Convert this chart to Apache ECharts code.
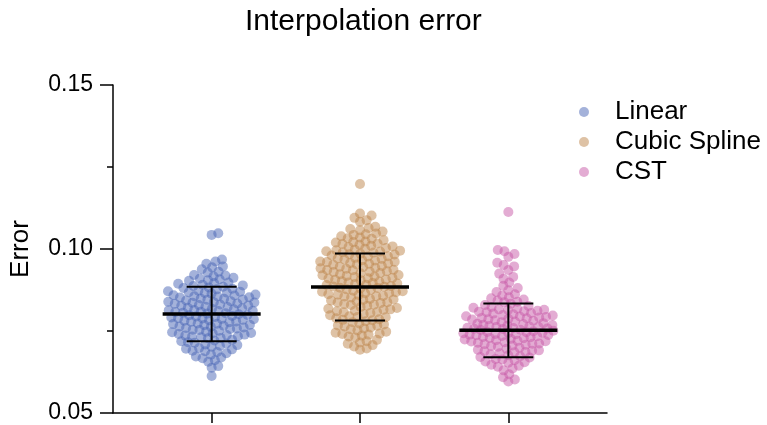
<!DOCTYPE html>
<html>
<head>
<meta charset="utf-8">
<script src="https://cdn.jsdelivr.net/npm/echarts@6/dist/echarts.min.js"></script>
<style>
  html, body { margin: 0; padding: 0; background: #fff; }
  #chart { width: 767px; height: 425px; }
</style>
</head>
<body>
<div id="chart"></div>
<script>
// groups and colours
var groups = ['Linear', 'Cubic Spline', 'CST'];
var colors = ['#4a66b5', '#bd864c', '#c85aa8'];

var linearErr = [
  0.1043, 0.1048, 0.0962, 0.0968, 0.0955, 0.0944, 0.0938, 0.0931, 0.0947, 0.0928,
  0.0921, 0.0917, 0.0912, 0.0908, 0.0903, 0.0919, 0.0910, 0.0905,
  0.0898, 0.0894, 0.0891, 0.0887, 0.0883, 0.0879, 0.0896, 0.0885, 0.0877, 0.0889, 0.0881,
  0.0873, 0.0870, 0.0867, 0.0864, 0.0861, 0.0858, 0.0855, 0.0852, 0.0871, 0.0866, 0.0859, 0.0853, 0.0868, 0.0856,
  0.0848, 0.0846, 0.0843, 0.0841, 0.0838, 0.0836, 0.0833, 0.0831, 0.0829, 0.0827, 0.0845, 0.0839, 0.0834, 0.0828, 0.0849, 0.0837,
  0.0823, 0.0821, 0.0818, 0.0816, 0.0813, 0.0811, 0.0808, 0.0806, 0.0803, 0.0801, 0.0819, 0.0814, 0.0809, 0.0804, 0.0824, 0.0812,
  0.0798, 0.0796, 0.0793, 0.0791, 0.0788, 0.0786, 0.0783, 0.0781, 0.0779, 0.0777, 0.0794, 0.0789, 0.0784, 0.0778, 0.0799, 0.0787,
  0.0773, 0.0771, 0.0768, 0.0766, 0.0763, 0.0761, 0.0758, 0.0756, 0.0753, 0.0751, 0.0769, 0.0764, 0.0759, 0.0754, 0.0772,
  0.0748, 0.0746, 0.0743, 0.0741, 0.0738, 0.0736, 0.0733, 0.0731, 0.0728, 0.0744, 0.0739, 0.0734, 0.0729,
  0.0723, 0.0719, 0.0716, 0.0712, 0.0709, 0.0705, 0.0702, 0.0721, 0.0714, 0.0707,
  0.0698, 0.0694, 0.0690, 0.0686, 0.0682, 0.0678, 0.0696, 0.0688,
  0.0672, 0.0667, 0.0661, 0.0656, 0.0669, 0.0643, 0.0638, 0.0613
];
var cubicErr = [
  0.1198, 0.1108, 0.1102, 0.1095, 0.1088, 0.1083,
  0.1064, 0.1061, 0.1057, 0.1053, 0.1068,
  0.1047, 0.1043, 0.1039, 0.1035, 0.1031, 0.1027, 0.1045, 0.1033,
  0.1023, 0.1020, 0.1017, 0.1013, 0.1010, 0.1006, 0.1003, 0.1021, 0.1015, 0.1008, 0.1001,
  0.0998, 0.0995, 0.0992, 0.0989, 0.0986, 0.0983, 0.0980, 0.0977, 0.0996, 0.0990, 0.0984, 0.0978, 0.0993,
  0.0973, 0.0970, 0.0968, 0.0965, 0.0962, 0.0960, 0.0957, 0.0955, 0.0952, 0.0971, 0.0966, 0.0961, 0.0956, 0.0953,
  0.0948, 0.0945, 0.0943, 0.0940, 0.0937, 0.0935, 0.0932, 0.0930, 0.0927, 0.0946, 0.0941, 0.0936, 0.0931, 0.0926,
  0.0923, 0.0920, 0.0918, 0.0915, 0.0912, 0.0910, 0.0907, 0.0905, 0.0902, 0.0921, 0.0916, 0.0911, 0.0906, 0.0901,
  0.0898, 0.0895, 0.0893, 0.0890, 0.0887, 0.0885, 0.0882, 0.0880, 0.0877, 0.0896, 0.0891, 0.0886, 0.0881, 0.0876,
  0.0873, 0.0870, 0.0868, 0.0865, 0.0862, 0.0860, 0.0857, 0.0855, 0.0852, 0.0871, 0.0866, 0.0861, 0.0856,
  0.0848, 0.0845, 0.0843, 0.0840, 0.0837, 0.0835, 0.0832, 0.0830, 0.0827, 0.0846, 0.0838, 0.0829,
  0.0823, 0.0820, 0.0818, 0.0815, 0.0812, 0.0810, 0.0807, 0.0805, 0.0802, 0.0816, 0.0808,
  0.0798, 0.0795, 0.0792, 0.0789, 0.0786, 0.0783, 0.0780, 0.0777, 0.0793, 0.0784,
  0.0773, 0.0770, 0.0767, 0.0764, 0.0761, 0.0758, 0.0755, 0.0752, 0.0766,
  0.0748, 0.0745, 0.0742, 0.0739, 0.0736, 0.0733, 0.0730, 0.0741,
  0.0723, 0.0719, 0.0715, 0.0711, 0.0707, 0.0703, 0.0697, 0.0693
];
var cstErr = [
  0.1113, 0.0997, 0.0993, 0.0985, 0.0976, 0.0958, 0.0951, 0.0947, 0.0936, 0.0925, 0.0915,
  0.0909, 0.0898, 0.0888, 0.0881, 0.0874, 0.0869, 0.0862, 0.0858, 0.0853, 0.0850, 0.0846,
  0.0843, 0.0838, 0.0833, 0.0829, 0.0839, 0.0826,
  0.0823, 0.0821, 0.0818, 0.0816, 0.0814, 0.0812, 0.0809, 0.0807, 0.0805, 0.0803, 0.0801, 0.0815, 0.0810,
  0.0799, 0.0797, 0.0795, 0.0793, 0.0791, 0.0789, 0.0787, 0.0785, 0.0783, 0.0781, 0.0779, 0.0777, 0.0794, 0.0786, 0.0790,
  0.0774, 0.0772, 0.0771, 0.0769, 0.0768, 0.0766, 0.0765, 0.0763, 0.0762, 0.0760, 0.0759, 0.0757, 0.0756,
  0.0754, 0.0753, 0.0751, 0.0764, 0.0758,
  0.0749, 0.0747, 0.0746, 0.0744, 0.0743, 0.0741, 0.0740, 0.0738, 0.0737, 0.0735, 0.0734, 0.0732, 0.0731,
  0.0729, 0.0728, 0.0726, 0.0745, 0.0739,
  0.0724, 0.0722, 0.0720, 0.0718, 0.0716, 0.0714, 0.0712, 0.0710, 0.0708, 0.0706, 0.0704, 0.0702, 0.0719, 0.0711,
  0.0699, 0.0696, 0.0693, 0.0690, 0.0688, 0.0685, 0.0682, 0.0679, 0.0676, 0.0691, 0.0686,
  0.0673, 0.0669, 0.0665, 0.0661, 0.0657, 0.0653, 0.0671, 0.0663, 0.0655,
  0.0647, 0.0641, 0.0636, 0.0630, 0.0644, 0.0618, 0.0609, 0.0602, 0.0596
];

// mean and SD
var means = [0.0802, 0.0884, 0.0752];
var sds = [0.0083, 0.0102, 0.0082];

var allErr = [linearErr, cubicErr, cstErr];

// grid in px
var gridLeft = 113, gridRight = 160, gridTop = 85, gridBottom = 12;
var xMin = 0.335, xMax = 3.665, yMin = 0.05, yMax = 0.15;
var pxPerX = (767 - gridLeft - gridRight) / (xMax - xMin);
var pxPerY = (425 - gridTop - gridBottom) / (yMax - yMin);

// beeswarm: smallest free offset; if it's too far out, squeeze in where the gap is biggest
function swarm(vals, d, maxW) {
  var pts = vals.map(function (v) { return { v: v, y: v * pxPerY }; });
  pts.sort(function (a, b) { return a.y - b.y; });
  var placed = [];
  pts.forEach(function (p) {
    var near = placed.filter(function (q) { return Math.abs(q.y - p.y) < d; });
    var cands = [0];
    near.forEach(function (q) {
      var dx = Math.sqrt(d * d - (q.y - p.y) * (q.y - p.y));
      cands.push(q.x + dx, q.x - dx);
    });
    cands.sort(function (a, b) { return Math.abs(a) - Math.abs(b); });
    p.x = null;
    for (var i = 0; i < cands.length; i++) {
      var x = cands[i];
      var ok = near.every(function (q) {
        var dx = q.x - x, dy = q.y - p.y;
        return dx * dx + dy * dy >= d * d - 0.01;
      });
      if (ok) { p.x = x; break; }
    }
    if (p.x === null || Math.abs(p.x) > maxW) {
      var best = 0, bestD = -1;
      for (var t = -maxW; t <= maxW; t += 1) {
        var md = Infinity;
        near.forEach(function (q) {
          var dx = q.x - t, dy = q.y - p.y;
          md = Math.min(md, dx * dx + dy * dy);
        });
        if (md > bestD) { bestD = md; best = t; }
      }
      p.x = best;
    }
    placed.push(p);
  });
  return placed;
}

var series = groups.map(function (name, gi) {
  var pts = swarm(allErr[gi], 6.8, 45);
  return {
    name: name,
    type: 'scatter',
    symbolSize: 10,
    itemStyle: { color: colors[gi], opacity: 0.5 },
    emphasis: { disabled: true },
    data: pts.map(function (p) { return [gi + 1 + p.x / pxPerX, p.v]; })
  };
});

series.push({
  type: 'custom',
  z: 10,
  silent: true,
  renderItem: function (params, api) {
    var x = api.value(0), m = api.value(1), s = api.value(2);
    var c = api.coord([x, m]);
    var top = api.coord([x, m + s]);
    var bot = api.coord([x, m - s]);
    var blk = { stroke: '#000', lineWidth: 2 };
    return {
      type: 'group',
      children: [
        { type: 'line', shape: { x1: c[0] - 49, y1: c[1], x2: c[0] + 49, y2: c[1] }, style: { stroke: '#000', lineWidth: 3.5 } },
        { type: 'line', shape: { x1: c[0], y1: top[1], x2: c[0], y2: bot[1] }, style: blk },
        { type: 'line', shape: { x1: c[0] - 25, y1: top[1], x2: c[0] + 25, y2: top[1] }, style: blk },
        { type: 'line', shape: { x1: c[0] - 25, y1: bot[1], x2: c[0] + 25, y2: bot[1] }, style: blk }
      ]
    };
  },
  data: means.map(function (m, i) { return [i + 1, m, sds[i]]; })
});

var font = 'Arial, "Liberation Sans", sans-serif';

var option = {
  animation: false,
  title: {
    text: 'Interpolation error',
    left: 240,
    top: 2,
    textStyle: { fontFamily: font, fontSize: 30, fontWeight: 'normal', color: '#000' }
  },
  legend: {
    orient: 'vertical',
    left: 574,
    top: 94,
    icon: 'circle',
    itemWidth: 10,
    itemHeight: 10,
    itemGap: 4,
    textStyle: { fontFamily: font, fontSize: 26, color: '#000', padding: [0, 0, 0, 21] },
    data: groups
  },
  grid: { left: gridLeft, right: gridRight, top: gridTop, bottom: gridBottom },
  xAxis: {
    type: 'value',
    min: xMin,
    max: xMax,
    axisLine: { show: true, onZero: false, lineStyle: { color: '#000', width: 1.5 } },
    axisTick: { show: true, customValues: [1, 2, 3], length: 10, inside: false, lineStyle: { color: '#000', width: 1.5 } },
    axisLabel: { show: false },
    splitLine: { show: false }
  },
  yAxis: {
    type: 'value',
    min: yMin,
    max: yMax,
    interval: 0.05,
    name: 'Error',
    nameLocation: 'middle',
    nameGap: 79,
    nameTextStyle: { fontFamily: font, fontSize: 26, color: '#000' },
    axisLine: { show: true, lineStyle: { color: '#000', width: 1.5 } },
    axisTick: { show: true, length: 13, lineStyle: { color: '#000', width: 1.5 } },
    minorTick: { show: true, splitNumber: 2, length: 6, lineStyle: { color: '#000', width: 1.5 } },
    axisLabel: {
      margin: 20,
      fontFamily: font,
      fontSize: 23,
      color: '#000',
      formatter: function (v) { return v.toFixed(2); }
    },
    splitLine: { show: false },
    minorSplitLine: { show: false }
  },
  series: series
};

var chart = echarts.init(document.getElementById('chart'));
chart.setOption(option);
</script>
</body>
</html>
